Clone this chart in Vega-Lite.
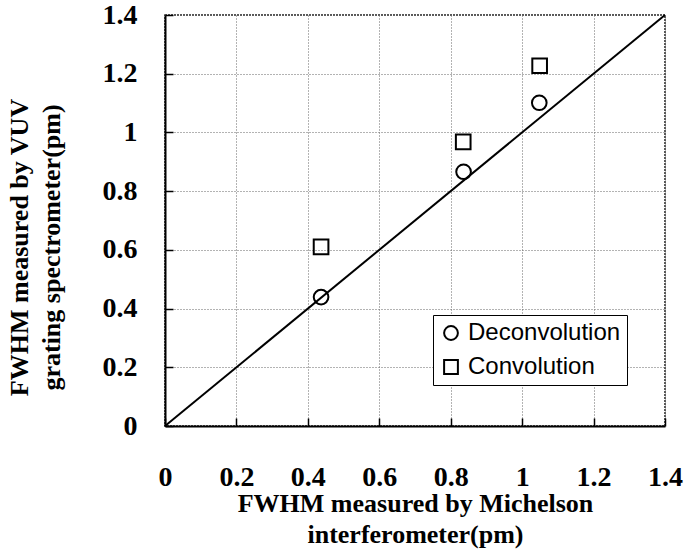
{
  "$schema": "https://vega.github.io/schema/vega-lite/v6.json",
  "width": 500,
  "height": 411,
  "autosize": "none",
  "padding": {"left": 165, "top": 15, "right": 23, "bottom": 130},
  "background": "white",
  "config": {
    "view": {"stroke": "#222", "strokeWidth": 1.5, "strokeDash": [2, 1]},
    "axis": {
      "labelFont": "Liberation Serif",
      "labelFontWeight": "bold",
      "labelFontSize": 28,
      "labelColor": "black",
      "titleFont": "Liberation Serif",
      "titleFontWeight": "bold",
      "titleFontSize": 26,
      "titleColor": "black",
      "domainColor": "black",
      "domainWidth": 2,
      "tickColor": "black",
      "tickWidth": 1.5,
      "tickSize": -8,
      "gridColor": "#666",
      "gridDash": [1, 2],
      "gridWidth": 1,
      "gridOpacity": 1
    }
  },
  "layer": [
    {
      "data": {"values": [{"mx": 0, "my": 0}, {"mx": 1.4, "my": 1.4}]},
      "mark": {"type": "line", "color": "black", "strokeWidth": 2},
      "encoding": {
        "x": {
          "field": "mx", "type": "quantitative",
          "scale": {"domain": [0, 1.4], "nice": false},
          "axis": {
            "values": [0, 0.2, 0.4, 0.6, 0.8, 1, 1.2, 1.4],
            "format": "~g",
            "labelPadding": 45,
            "labelBaseline": "top",
            "labelFlush": false,
            "title": ["FWHM  measured by Michelson", "interferometer(pm)"],
            "titleLineHeight": 31,
            "titleBaseline": "middle",
            "titleX": 250,
            "titleY": 77
          }
        },
        "y": {
          "field": "my", "type": "quantitative",
          "scale": {"domain": [0, 1.4], "nice": false},
          "axis": {
            "values": [0, 0.2, 0.4, 0.6, 0.8, 1, 1.2, 1.4],
            "format": "~g",
            "labelPadding": 36,
            "labelFlush": false,
            "title": ["FWHM measured by VUV", "grating spectrometer(pm)"],
            "titleLineHeight": 32,
            "titleBaseline": "middle",
            "titleX": -146,
            "titleY": 232
          }
        }
      }
    },
    {
      "data": {
        "values": [
          {"x": 0.437, "y": 0.439, "series": "Deconvolution"},
          {"x": 0.836, "y": 0.866, "series": "Deconvolution"},
          {"x": 1.048, "y": 1.101, "series": "Deconvolution"},
          {"x": 0.437, "y": 0.61, "series": "Convolution"},
          {"x": 0.835, "y": 0.968, "series": "Convolution"},
          {"x": 1.049, "y": 1.227, "series": "Convolution"}
        ]
      },
      "mark": {"type": "point", "filled": false, "stroke": "black", "strokeWidth": 2, "opacity": 1, "size": 215},
      "encoding": {
        "x": {"field": "x", "type": "quantitative"},
        "y": {"field": "y", "type": "quantitative"},
        "shape": {
          "field": "series", "type": "nominal",
          "scale": {"domain": ["Deconvolution", "Convolution"], "range": ["circle", "square"]},
          "legend": {
            "title": null,
            "orient": "none",
            "legendX": 268,
            "legendY": 300,
            "strokeColor": "black",
            "fillColor": "white",
            "padding": 6,
            "rowPadding": 10,
            "labelFont": "Liberation Sans",
            "labelFontSize": 24,
            "labelColor": "black",
            "labelLimit": 300,
            "labelOffset": 5,
            "symbolSize": 190,
            "symbolStrokeColor": "black",
            "symbolFillColor": "transparent",
            "symbolStrokeWidth": 2
          }
        }
      }
    }
  ]
}
